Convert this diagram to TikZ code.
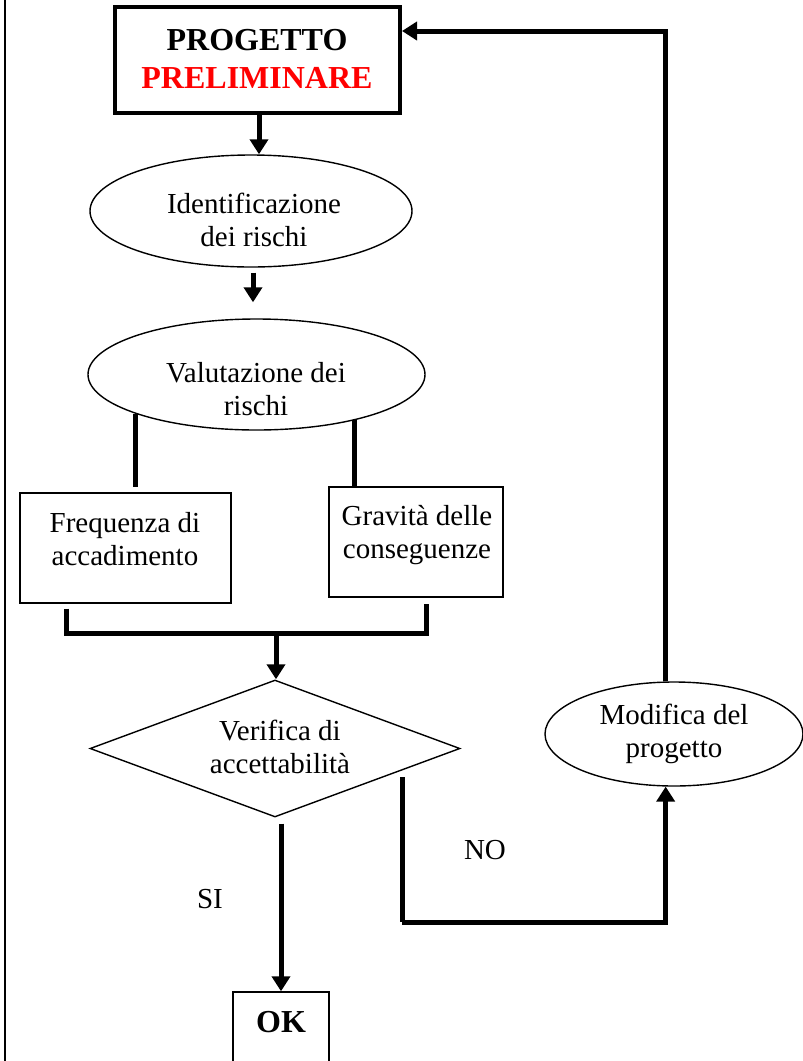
\documentclass[tikz,border=0pt]{standalone}
\usepackage{fontspec}
\setmainfont{Liberation Serif}
\usetikzlibrary{arrows.meta,shapes.geometric,calc}

\begin{document}
\begin{tikzpicture}[x=1pt,y=-1pt,
  txt/.style={font=\fontsize{29}{33}\selectfont, align=center, inner sep=0},
  boldtxt/.style={font=\fontsize{32}{38}\selectfont\bfseries, align=center, inner sep=0},
  shape line/.style={draw, line width=1.4pt, inner sep=0},
  bubble/.style={shape line, ellipse},
  flow/.style={line width=5pt, -{Triangle[width=18pt,length=15pt]}},
  bar/.style={line width=5pt, line join=miter},
]
\path[use as bounding box, clip] (0,0) rectangle (803,1061);

% margin rule
\coordinate (rt) at (5,0);
\coordinate (rb) at (5,1061);
\draw[line width=2pt] (rt) -- (rb);

% shapes
\node[draw, line width=4pt, minimum width=285pt, minimum height=106pt, inner sep=0] (prog) at (257.5,60) {};
\node[bubble, minimum width=322pt, minimum height=112pt] (ident) at (251,211) {};
\node[bubble, minimum width=337pt, minimum height=111pt] (valut) at (256.5,374.5) {};
\node[shape line, minimum width=211pt, minimum height=110pt] (freq) at (125.5,548) {};
\node[shape line, minimum width=174pt, minimum height=110pt] (grav) at (416,542) {};
\node[shape line, diamond, aspect=2.7, minimum width=370pt, minimum height=137pt] (verif) at (275,748.5) {};
\node[bubble, minimum width=258pt, minimum height=104pt] (modif) at (674,734) {};
\node[shape line, minimum width=96pt, minimum height=100pt] (ok) at (281,1042) {};

% texts
\node[boldtxt] (progtxt) at (257,58.5) {PROGETTO\\\textcolor{red}{PRELIMINARE}};
\node[txt] (identtxt) at (254,219.5) {Identificazione\\dei rischi};
\node[txt] (valuttxt) at (256,389.5) {Valutazione dei\\rischi};
\node[txt] (freqtxt) at (125,539) {Frequenza di\\accadimento};
\node[txt] (gravtxt) at (417,535.5) {Gravità delle\\conseguenze};
\node[txt] (veriftxt) at (280,746.5) {Verifica di\\accettabilità};
\node[txt] (modiftxt) at (674,734) {Modifica del\\progetto};
\node[txt] (notxt) at (485,850) {NO};
\node[txt] (sitxt) at (210,899) {SI};
\node[boldtxt] (oktxt) at (281,1022.5) {OK};

% main flow
\coordinate (ps) at ($(prog.south)+(1.5,0)$);
\draw[flow] (ps) -- (ps |- ident.north);
\coordinate (is) at ($(ident.south)+(2,5)$);
\coordinate (vn) at ($(valut.north)+(-3,-16)$);
\draw[flow] (is) -- (is |- vn);

% branches from the evaluation
\draw[bar] (valut.198.4) -- ($(valut.198.4 |- freq.north)+(0,-5)$);
\draw[bar] (valut.335) -- ($(valut.335 |- grav.north)+(0,1)$);

% joining bracket
\coordinate (jl) at (66,633);
\coordinate (jr) at (426,633);
\coordinate (jn) at (276,633);
\draw[bar] ($(jl |- freq.south)+(0,5)$) -- (jl) -- (jr) -- ($(jr |- grav.south)+(0,6)$);
\draw[flow] (jn) -- (jn |- verif.north);

% SI branch
\draw[flow] ($(ok.north |- verif.south)+(0,6)$) -- (ok.north);

% NO branch
\coordinate (nt) at (402,777);
\coordinate (nb) at (402,922);
\draw[bar] (nt) -- (nb);
\draw[flow] (nb) -| (modif.261);

% back to the preliminary project
\draw[flow] (modif.99) |- ($(prog.north east)+(0,26)$);
\end{tikzpicture}
\end{document}
